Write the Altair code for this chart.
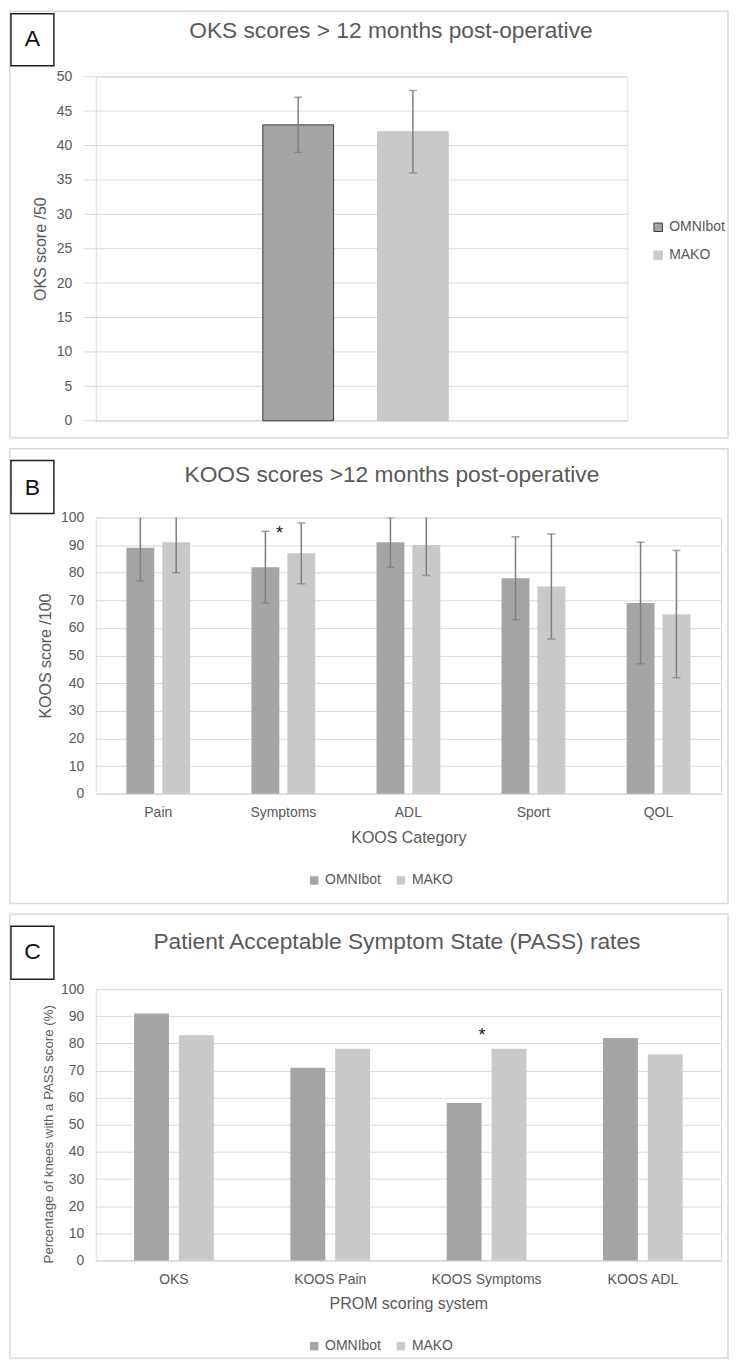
import altair as alt
import pandas as pd

# ---------------- data ----------------
robots = ["OMNIbot", "MAKO"]
bar_colors = ["#A5A5A5", "#C9C9C9"]

# Panel A: OKS scores (mean, SD)
oks_cat = ["OKS"]
oks_mean = [43, 42]
oks_sd = [4, 6]
oks_ticks = [0, 5, 10, 15, 20, 25, 30, 35, 40, 45, 50]

# Panel B: KOOS sub-scores (mean, SD)
koos_cats = ["Pain", "Symptoms", "ADL", "Sport", "QOL"]
koos_omni = [89, 82, 91, 78, 69]
koos_omni_sd = [12, 13, 9, 15, 22]
koos_mako = [91, 87, 90, 75, 65]
koos_mako_sd = [11, 11, 11, 19, 23]
pct_ticks = [0, 10, 20, 30, 40, 50, 60, 70, 80, 90, 100]

# Panel C: PASS rates (%)
pass_cats = ["OKS", "KOOS Pain", "KOOS Symptoms", "KOOS ADL"]
pass_omni = [91, 71, 58, 82]
pass_mako = [83, 78, 78, 76]

# significance markers (placed next to the OMNIbot bar of the category)
koos_star = [{"cat": "Symptoms", "robot": "OMNIbot", "y": 96}]
pass_star = [{"cat": "KOOS Symptoms", "robot": "OMNIbot", "y": 85}]

# ---------------- style ----------------
FONT = "Liberation Sans, Arial, sans-serif"
TXT = "#595959"
GRID = "#D9D9D9"
ERR = "#7F7F7F"
TITLE_SIZE = 22.8
one = alt.Data(values=[{"k": 1}])

dfA = pd.DataFrame({"cat": oks_cat * 2, "robot": robots, "value": oks_mean, "sd": oks_sd})
dfA["lo"] = dfA["value"] - dfA["sd"]
dfA["hi"] = dfA["value"] + dfA["sd"]

rows = []
for i, c in enumerate(koos_cats):
    rows.append({"cat": c, "robot": "OMNIbot", "value": koos_omni[i], "sd": koos_omni_sd[i]})
    rows.append({"cat": c, "robot": "MAKO", "value": koos_mako[i], "sd": koos_mako_sd[i]})
dfB = pd.DataFrame(rows)
dfB["lo"] = dfB["value"] - dfB["sd"]
dfB["hi"] = dfB["value"] + dfB["sd"]

rows = []
for i, c in enumerate(pass_cats):
    rows.append({"cat": c, "robot": "OMNIbot", "value": pass_omni[i]})
    rows.append({"cat": c, "robot": "MAKO", "value": pass_mako[i]})
dfC = pd.DataFrame(rows)


def y_axis(title, values, tpad, lpad=12, grid=True, tsize=16, **kw):
    return alt.Axis(values=values, title=title, titleFont=FONT, titleFontSize=tsize,
                    titleFontWeight="normal", titleColor=TXT, titlePadding=tpad,
                    labelFont=FONT, labelFontSize=14, labelColor=TXT, labelPadding=lpad,
                    ticks=False, tickSize=0, domain=False, grid=grid,
                    gridColor=GRID, gridWidth=1, **kw)


def frame(y1, y2, letter, ly, by1, by2, title, tx, ty, tsize=TITLE_SIZE):
    x1, x2 = -86, 634
    border = alt.Chart(one).mark_rect(fillOpacity=0, stroke=GRID, strokeWidth=1.5).encode(
        x=alt.value(x1), x2=alt.value(x2), y=alt.value(y1), y2=alt.value(y2))
    box = alt.Chart(one).mark_rect(fill="white", stroke="#222222", strokeWidth=1.5).encode(
        x=alt.value(-85), x2=alt.value(-42), y=alt.value(by1), y2=alt.value(by2))
    let = alt.Chart(one).mark_text(text=letter, font=FONT, fontSize=23, color="#111111",
                                   align="center", baseline="alphabetic").encode(
        x=alt.value(-63.5), y=alt.value(ly))
    ttl = alt.Chart(one).mark_text(text=title, font=FONT, fontSize=tsize, color=TXT,
                                   align="center", baseline="alphabetic").encode(
        x=alt.value(tx), y=alt.value(ty))
    return [border, box, let, ttl]


def legend(x, y, direction, rowpad=14):
    return alt.Legend(title=None, orient="none", legendX=x, legendY=y, direction=direction,
                      symbolType="square", symbolSize=72, symbolStrokeWidth=1,
                      labelFont=FONT, labelFontSize=14, labelColor=TXT, labelOffset=4,
                      rowPadding=rowpad, columnPadding=12)


def x_enc(cats, pi, po, axis, align=0.5):
    return alt.X("cat:N", sort=cats, axis=axis,
                 scale=alt.Scale(type="band", domain=cats, paddingInner=pi, paddingOuter=po,
                                 align=align))


def xo_enc(pi):
    return alt.XOffset("robot:N", sort=robots,
                       scale=alt.Scale(type="band", domain=robots, paddingInner=pi, paddingOuter=0))


def x_axis(title, tpad):
    return alt.Axis(title=title, titleFont=FONT, titleFontSize=16,
                    titleFontWeight="normal", titleColor=TXT, titlePadding=tpad,
                    labelFont=FONT, labelFontSize=14, labelColor=TXT, labelAngle=0,
                    labelPadding=12, ticks=False, tickSize=0, domain=True,
                    domainColor=GRID, domainWidth=1, grid=False)


def errorbars(df, x, xo, ysc, ax):
    rule = alt.Chart(df).mark_rule(color=ERR, strokeWidth=1.5, clip=True).encode(
        x=x, xOffset=xo, y=alt.Y("lo:Q", scale=ysc, axis=ax), y2="hi:Q")
    lo = alt.Chart(df).mark_tick(color=ERR, orient="horizontal", size=8, thickness=1.5, clip=True).encode(
        x=x, xOffset=xo, y=alt.Y("lo:Q", scale=ysc, axis=ax))
    hi = alt.Chart(df).mark_tick(color=ERR, orient="horizontal", size=8, thickness=1.5, clip=True).encode(
        x=x, xOffset=xo, y=alt.Y("hi:Q", scale=ysc, axis=ax))
    return [rule, lo, hi]


# ---------------- Panel A ----------------
WA, HA = 533, 345
xA = x_enc(oks_cat, 0.5, 0.4664, None, align=0.4827)
xoA = xo_enc(0.383)
yscA = alt.Scale(domain=[0, 50], nice=False)
axA = y_axis("OKS score /50", oks_ticks, 8, lpad=24, grid=False)

gridA = alt.Chart(alt.Data(values=[{"t": t} for t in oks_ticks])).mark_rule(
    color=GRID, strokeWidth=1).encode(
    y=alt.Y("t:Q", scale=yscA, axis=axA), x=alt.value(-12), x2=alt.value(WA))
barsA = alt.Chart(dfA).mark_bar(strokeWidth=1).encode(
    x=xA, xOffset=xoA,
    y=alt.Y("value:Q", scale=yscA, axis=axA),
    color=alt.Color("robot:N", sort=robots, scale=alt.Scale(domain=robots, range=bar_colors),
                    legend=legend(557, 144, "vertical")),
    stroke=alt.Stroke("robot:N", sort=robots,
                      scale=alt.Scale(domain=robots, range=["#3A3A3A", "#C9C9C9"]),
                      legend=legend(557, 144, "vertical")),
)
frA = frame(-65.5, 362, "A", -30.5, -63, -11,
            "OKS scores > 12 months post-operative", 296, -39)
chartA = alt.layer(frA[0], gridA, barsA, *errorbars(dfA, xA, xoA, yscA, axA), *frA[1:]).properties(
    width=WA, height=HA)

# ---------------- Panel B ----------------
WB, HB = 627, 277
xB = x_enc(koos_cats, 0.49, 0.245, x_axis("KOOS Category", 10))
xoB = xo_enc(0.222)
yscB = alt.Scale(domain=[0, 100], nice=False)
axB = y_axis("KOOS score /100", pct_ticks, 7)

barsB = alt.Chart(dfB).mark_bar().encode(
    x=xB, xOffset=xoB,
    y=alt.Y("value:Q", scale=yscB, axis=axB),
    color=alt.Color("robot:N", sort=robots, scale=alt.Scale(domain=robots, range=bar_colors),
                    legend=legend(212, 357, "horizontal")),
)
starB = alt.Chart(alt.Data(values=koos_star)).mark_text(
    text="*", font=FONT, fontSize=18, color="#111111", dx=14, dy=6, baseline="middle").encode(
    x=xB, xOffset=xoB, y=alt.Y("y:Q", scale=yscB, axis=axB))

frB = frame(-69, 387, "B", -22.7, -57, -4,
            "KOOS scores >12 months post-operative", 297, -35.3)
chartB = alt.layer(frB[0], barsB, *errorbars(dfB, xB, xoB, yscB, axB), starB, *frB[1:]).properties(
    width=WB, height=HB)

# ---------------- Panel C ----------------
WC, HC = 627, 272
xC = x_enc(pass_cats, 0.49, 0.245, x_axis("PROM scoring system", 9))
xoC = xo_enc(0.222)
yscC = alt.Scale(domain=[0, 100], nice=False)
axC = y_axis("Percentage of knees with a PASS score (%)", pct_ticks, 5, tsize=13.3, titleY=145)

barsC = alt.Chart(dfC).mark_bar().encode(
    x=xC, xOffset=xoC,
    y=alt.Y("value:Q", scale=yscC, axis=axC),
    color=alt.Color("robot:N", sort=robots, scale=alt.Scale(domain=robots, range=bar_colors),
                    legend=legend(212, 351, "horizontal")),
)
starC = alt.Chart(alt.Data(values=pass_star)).mark_text(
    text="*", font=FONT, fontSize=18, color="#111111", dx=18, dy=6, baseline="middle").encode(
    x=xC, xOffset=xoC, y=alt.Y("y:Q", scale=yscC, axis=axC))

frC = frame(-75, 370, "C", -30, -63, -10,
            "Patient Acceptable Symptom State (PASS) rates", 302, -40.7)
chartC = alt.layer(frC[0], barsC, starC, *frC[1:]).properties(width=WC, height=HC)

chart = alt.vconcat(chartA, chartB, chartC, spacing=7).properties(padding=0).resolve_scale(
    xOffset="independent", color="independent", stroke="independent").configure_view(
    stroke=None).configure(background="white")

chart.save("out.html", embed_options={"renderer": "svg", "actions": False})
